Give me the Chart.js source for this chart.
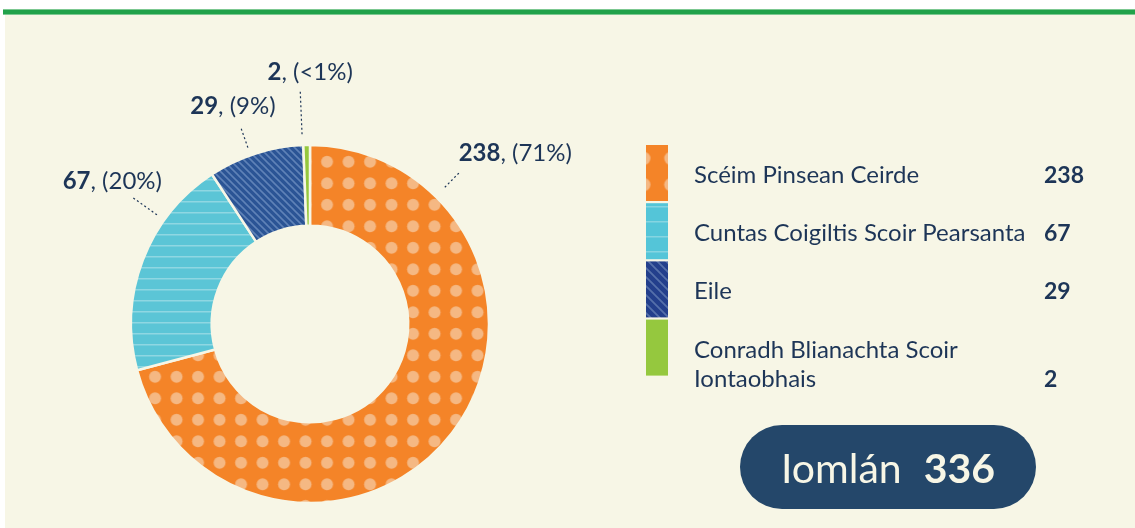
<!DOCTYPE html>
<html>
<head>
<meta charset="utf-8">
<script src="https://cdn.jsdelivr.net/npm/chart.js@4.4.0/dist/chart.umd.min.js"></script>
<style>
  html, body { margin: 0; padding: 0; background: #ffffff; }
  body { width: 1135px; height: 528px; position: relative; overflow: hidden; }
  #topbar { position: absolute; left: 3px; right: 0; top: 9px; height: 6px; background: #21a24a; border-top: 1px solid #7cc891; border-bottom: 1px solid #7cc891; box-sizing: border-box; }
  #panel { position: absolute; left: 5px; right: 0; top: 15px; bottom: 0; background: #f7f6e6; }
  #pensionChart { position: absolute; left: 0; top: 0; }
</style>
</head>
<body>
<div id="topbar"></div>
<div id="panel"></div>
<canvas id="pensionChart" width="1135" height="528"></canvas>
<script>
// chart data
var categories = ["Scéim Pinsean Ceirde", "Cuntas Coigiltis Scoir Pearsanta", "Eile", "Conradh Blianachta Scoir Iontaobhais"];
var counts = [238, 67, 29, 2];
var totalLabel = "Iomlán";

var cream = "#f7f6e6";
var textColor = "#1d3557";

// pattern helpers
function dotPattern(ctx, bg, dot, step, r, ox, oy) {
	var c = document.createElement("canvas");
	c.width = step * 2; c.height = step * 2;
	var g = c.getContext("2d");
	g.fillStyle = bg;
	g.fillRect(0, 0, c.width, c.height);
	g.fillStyle = dot;
	for (var i = 0; i < 2; i++) {
		for (var j = 0; j < 2; j++) {
			g.beginPath();
			g.arc(step * (i + 0.5), step * (j + 0.5), r, 0, Math.PI * 2);
			g.fill();
		}
	}
	var p = ctx.createPattern(c, "repeat");
	p.setTransform(new DOMMatrix([1, 0, 0, 1, ox, oy]));
	return p;
}

function hLinePattern(ctx, bg, line, step, lw, oy) {
	var c = document.createElement("canvas");
	c.width = 10; c.height = step;
	var g = c.getContext("2d");
	g.fillStyle = bg;
	g.fillRect(0, 0, c.width, c.height);
	g.fillStyle = line;
	g.fillRect(0, 0, c.width, lw);
	var p = ctx.createPattern(c, "repeat");
	p.setTransform(new DOMMatrix([1, 0, 0, 1, 0, oy]));
	return p;
}

function diagPattern(ctx, bg, line, step, lw) {
	var c = document.createElement("canvas");
	c.width = step; c.height = step;
	var g = c.getContext("2d");
	g.fillStyle = bg;
	g.fillRect(0, 0, step, step);
	g.strokeStyle = line;
	g.lineWidth = lw;
	g.beginPath();
	g.moveTo(-step, -step); g.lineTo(step * 2, step * 2);
	g.moveTo(-step, 0); g.lineTo(step, step * 2);
	g.moveTo(0, -step); g.lineTo(step * 2, step);
	g.stroke();
	return ctx.createPattern(c, "repeat");
}

var ctx = document.getElementById("pensionChart").getContext("2d");

var sliceFills = [
	dotPattern(ctx, "#f48428", "#f5b883", 21.5, 6, 15.25, 22),
	hLinePattern(ctx, "#5bc5d6", "#8fd7e2", 11, 1.5, 3),
	diagPattern(ctx, "#2b5495", "#5f82b7", 7, 1.6),
	"#95c83e"
];

var legendFills = [
	dotPattern(ctx, "#f48428", "#f5b883", 26.7, 6.5, 630.6, 118.3),
	hLinePattern(ctx, "#54c5d8", "#86d5e1", 15, 1.5, 11),
	diagPattern(ctx, "#233f8c", "#5570aa", 9, 1.8),
	"#95c83e"
];

// callout layout: angle clockwise from top, leader radii, text offset from leader end
var calloutLayout = [
	{ angle: 44.6, r1: 192, r2: 214, dx: 55, dy: -11 },
	{ angle: 305.5, r1: 188, r2: 217, dx: -21, dy: -9 },
	{ angle: 340.6, r1: 187, r2: 208, dx: -8, dy: -14 },
	{ angle: 357.6, r1: 190, r2: 234, dx: 10, dy: -10 }
];

function pctText(v, total) {
	var p = v / total * 100;
	if (p < 1) return "(<1%)";
	return "(" + Math.round(p) + "%)";
}

var calloutPlugin = {
	id: "callouts",
	afterDatasetsDraw: function(chart) {
		var c = chart.ctx;
		var meta = chart.getDatasetMeta(0);
		var total = counts.reduce(function(a, b) { return a + b; }, 0);
		c.save();
		meta.data.forEach(function(arc, i) {
			var L = calloutLayout[i];
			var a = L.angle * Math.PI / 180;
			var sx = Math.sin(a), sy = -Math.cos(a);
			var x1 = arc.x + sx * L.r1, y1 = arc.y + sy * L.r1;
			var x2 = arc.x + sx * L.r2, y2 = arc.y + sy * L.r2;
			c.strokeStyle = textColor;
			c.lineWidth = 1.2;
			c.setLineDash([2, 2.5]);
			c.beginPath();
			c.moveTo(x1, y1);
			c.lineTo(x2, y2);
			c.stroke();
			c.setLineDash([]);

			var bold = String(counts[i]);
			var rest = ", " + pctText(counts[i], total);
			c.font = "bold 24px Lato";
			var wb = c.measureText(bold).width;
			c.font = "24px Lato";
			var wr = c.measureText(rest).width;
			var cx = x2 + L.dx;
			var by = y2 + L.dy;
			var left = cx - (wb + wr) / 2;
			c.fillStyle = textColor;
			c.textBaseline = "alphabetic";
			c.textAlign = "left";
			c.font = "bold 24px Lato";
			c.fillText(bold, left, by);
			c.font = "24px Lato";
			c.fillText(rest, left + wb, by);
		});
		c.restore();
	}
};

function wrapWords(c, text, maxW) {
	var words = text.split(" ");
	var lines = [];
	var line = "";
	words.forEach(function(w) {
		var test = line ? line + " " + w : w;
		if (c.measureText(test).width > maxW && line) {
			lines.push(line);
			line = w;
		} else {
			line = test;
		}
	});
	lines.push(line);
	return lines;
}

var legendPlugin = {
	id: "sideLegend",
	afterDraw: function(chart) {
		var c = chart.ctx;
		var total = counts.reduce(function(a, b) { return a + b; }, 0);
		c.save();
		var top = 145;
		var pitch = 58.2;
		categories.forEach(function(name, i) {
			var y = top + i * pitch;
			c.fillStyle = legendFills[i];
			c.fillRect(646, y, 22, 56);
			c.font = "24px Lato";
			c.fillStyle = textColor;
			c.textAlign = "left";
			c.textBaseline = "alphabetic";
			var lines = wrapWords(c, name, 340);
			var by = y + 38;
			lines.forEach(function(ln, k) {
				c.fillText(ln, 694, by + k * 29);
			});
			c.font = "bold 23px Lato";
			c.fillText(String(counts[i]), 1044, by + (lines.length - 1) * 29);
		});

		// total pill
		c.fillStyle = "#24476a";
		c.beginPath();
		c.roundRect(740, 425, 296, 84, 42);
		c.fill();
		c.font = "41px Lato";
		var w1 = c.measureText(totalLabel).width;
		c.font = "bold 41px Lato";
		var totStr = String(total);
		var w2 = c.measureText(totStr).width;
		var gap = 22;
		var sx = 888 - (w1 + gap + w2) / 2;
		c.fillStyle = cream;
		c.font = "41px Lato";
		c.fillText(totalLabel, sx, 483);
		c.font = "bold 41px Lato";
		c.fillText(totStr, sx + w1 + gap, 483);
		c.restore();
	}
};

var pensionChart = new Chart(ctx, {
	type: "doughnut",
	data: {
		labels: categories,
		datasets: [{
			data: counts,
			backgroundColor: sliceFills,
			borderColor: cream,
			borderWidth: 2.5
		}]
	},
	options: {
		responsive: false,
		animation: false,
		events: [],
		radius: 179,
		cutout: 97,
		layout: { padding: { left: 132, right: 647, top: 146, bottom: 26 } },
		plugins: {
			legend: { display: false },
			tooltip: { enabled: false }
		}
	},
	plugins: [calloutPlugin, legendPlugin]
});
</script>
</body>
</html>
